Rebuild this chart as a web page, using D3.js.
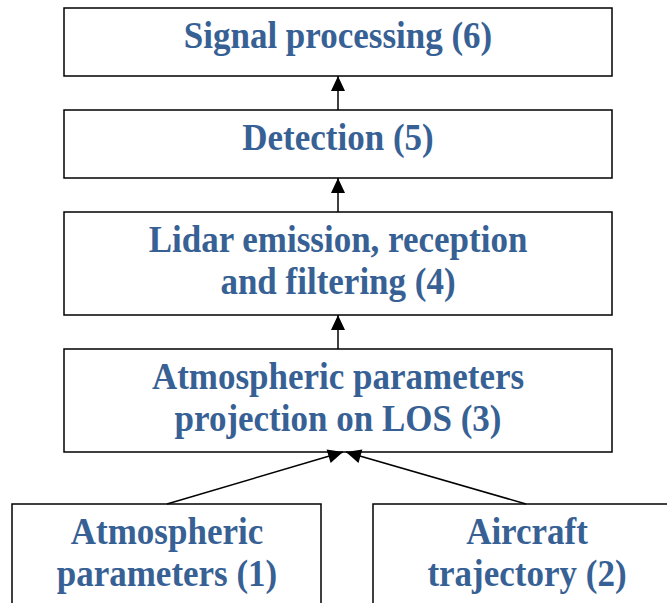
<!DOCTYPE html>
<html>
<head>
<meta charset="utf-8">
<script src="https://cdn.jsdelivr.net/npm/d3@7"></script>
<style>
  body { margin: 0; background: #fff; }
  svg { display: block; }
</style>
</head>
<body>
<script>
// flowchart steps, top to bottom
const stepIds = [6, 5, 4, 3];
const stepLabels = [
    ["Signal processing (6)"],
    ["Detection (5)"],
    ["Lidar emission, reception", "and filtering (4)"],
    ["Atmospheric parameters", "projection on LOS (3)"]
];
const inputIds = [1, 2];
const inputLabels = [
    ["Atmospheric", "parameters (1)"],
    ["Aircraft", "trajectory (2)"]
];
// links: from -> to
const links = [[5, 6], [4, 5], [3, 4], [1, 3], [2, 3]];

const width = 667, height = 603;
const blue = "#376194";
const lineH = 42;
const stretch = 1.1;

const svg = d3.select("body").append("svg")
    .attr("width", width)
    .attr("height", height);

// layout of the main column
const boxX = d3.scaleLinear().domain([0, 1]).range([64, 612]);
let nodes = {};
let y = 8;
stepIds.forEach((id, i) => {
    const lines = stepLabels[i];
    const h = lines.length === 1 ? 68 : 103;
    nodes[id] = {id: id, lines: lines, x0: boxX(0), x1: boxX(1), y0: y, y1: y + h, cx: 338};
    y += h + 34;
});
// bottom inputs
const inputX = d3.scaleOrdinal().domain(inputIds).range([[12, 321], [373, 680]]);
const inputCx = [167, 527];
const inputTop = nodes[3].y1 + 52;
inputIds.forEach((id, i) => {
    const [a, b] = inputX(id);
    nodes[id] = {id: id, lines: inputLabels[i], x0: a, x1: b, y0: inputTop, y1: inputTop + 110, cx: inputCx[i]};
});

const nodeList = Object.values(nodes);

svg.append("g")
    .selectAll("rect")
    .data(nodeList)
    .join("rect")
    .attr("x", d => d.x0)
    .attr("y", d => d.y0)
    .attr("width", d => d.x1 - d.x0)
    .attr("height", d => d.y1 - d.y0)
    .attr("fill", "none")
    .attr("stroke", "#000")
    .attr("stroke-width", 1.5);

const label = svg.append("g")
    .attr("font-family", "'Liberation Serif', 'Times New Roman', serif")
    .attr("font-weight", "bold")
    .attr("font-size", 35)
    .attr("fill", blue)
    .attr("text-anchor", "middle")
    .selectAll("text")
    .data(nodeList)
    .join("text")
    .attr("transform", d => `translate(${d.cx},${d.y0 + 40}) scale(1,${stretch})`);

label.selectAll("tspan")
    .data(d => d.lines.map((t, i) => ({t: t, i: i})))
    .join("tspan")
    .attr("x", 0)
    .attr("y", d => d.i * lineH / stretch)
    .text(d => d.t);

// arrows
const arrowEnds = function (l) {
    const s = nodes[l[0]], t = nodes[l[1]];
    if (l[0] === 1) return [[167, s.y0], [343, t.y1]];
    if (l[0] === 2) return [[526, s.y0], [346, t.y1]];
    return [[338, s.y0], [338, t.y1]];
};

const arrows = svg.append("g")
    .selectAll("g")
    .data(links)
    .join("g");

arrows.append("line")
    .attr("x1", d => arrowEnds(d)[0][0])
    .attr("y1", d => arrowEnds(d)[0][1])
    .attr("x2", d => arrowEnds(d)[1][0])
    .attr("y2", d => arrowEnds(d)[1][1])
    .attr("stroke", "#000")
    .attr("stroke-width", 1.5);

arrows.append("path")
    .attr("fill", "#000")
    .attr("d", d => {
        const [[x1, y1], [x2, y2]] = arrowEnds(d);
        const ang = Math.atan2(y2 - y1, x2 - x1);
        const len = 15, hw = 7;
        const bx = x2 - len * Math.cos(ang), by = y2 - len * Math.sin(ang);
        const px = -Math.sin(ang) * hw, py = Math.cos(ang) * hw;
        return `M${x2},${y2}L${bx + px},${by + py}L${bx - px},${by - py}Z`;
    });
</script>
</body>
</html>
